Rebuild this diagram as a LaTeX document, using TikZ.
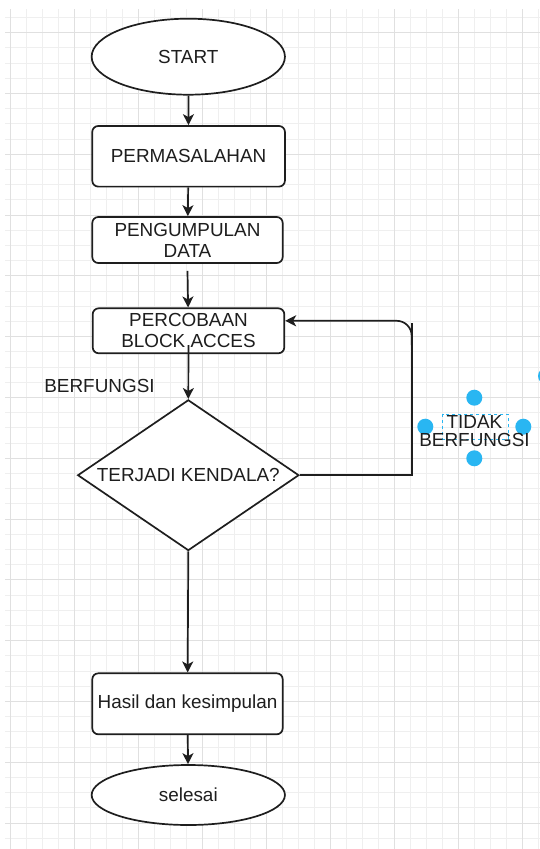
\documentclass[tikz,border=0pt]{standalone}
\usepackage{fontspec}
\setmainfont{Liberation Sans}
\usetikzlibrary{shapes.geometric,arrows.meta}
\definecolor{minorgrid}{RGB}{239,239,239}
\definecolor{majorgrid}{RGB}{224,224,224}
\definecolor{handle}{RGB}{41,182,242}
\definecolor{ink}{RGB}{30,30,30}
\begin{document}
\begin{tikzpicture}[x=1pt,y=-1pt,
  txt/.style={font=\fontsize{18.9}{21}\selectfont, text=ink},
  box/.style={txt, draw=ink, line width=1.7pt, rounded corners=6pt, fill=white,
    align=center, inner sep=0pt},
  term/.style={txt, ellipse, draw=ink, line width=1.7pt, fill=white, inner sep=0pt},
  dec/.style={txt, diamond, draw=ink, line width=1.7pt, fill=white, inner sep=0pt,
    shape aspect=1.48},
  conn/.style={draw=ink, line width=1.7pt},
  arr/.style={conn, -{Stealth[length=11pt,width=11pt,inset=3pt]}},
  lbl/.style={txt, inner sep=0pt},
  handledot/.style={circle, fill=handle, minimum size=16pt, inner sep=0pt}]
\useasboundingbox (0,0) rectangle (540,849);
\fill[white] (0,0) rectangle (540,849);
% grid
\foreach \k in {0,...,33} {\draw[minorgrid, line width=1pt] ({10.7+16*\k},9) -- ({10.7+16*\k},849);}
\foreach \k in {0,...,54} {\draw[minorgrid, line width=1pt] (5,{17.5+15.2*\k}) -- (540,{17.5+15.2*\k});}
\foreach \k in {0,...,8} {\draw[majorgrid, line width=1pt] ({10.7+64*\k},9) -- ({10.7+64*\k},849);}
\foreach \k in {0,...,13} {\draw[majorgrid, line width=1pt] (5,{32.7+60.8*\k}) -- (540,{32.7+60.8*\k});}

% nodes
\node[term, minimum width=193.3pt, minimum height=76pt] (start) at (188.3,56.7) {START};
\node[box, minimum width=192.7pt, minimum height=60.6pt] (perm) at (188.6,156.3) {PERMASALAHAN};
\node[box, minimum width=190.4pt, minimum height=46pt] (data) at (187.5,240) {PENGUMPULAN\\DATA};
\node[box, minimum width=191.6pt, minimum height=45pt] (perc) at (188.5,330.8) {PERCOBAAN\\BLOCK ACCES};
\node[dec, minimum width=221.3pt, minimum height=150.7pt] (dia) at (188.3,475.2) {TERJADI KENDALA?};
\node[box, minimum width=190.4pt, minimum height=61pt] (hasil) at (187.5,703.8) {Hasil dan kesimpulan};
\node[term, minimum width=193.3pt, minimum height=60pt] (sel) at (188.3,795) {selesai};

% connectors
\draw[arr] (start) -- (perm);
\draw[arr] (perm) -- (data);
\draw[arr] ([yshift=-7pt]data.south) -- (perc);
\draw[arr] ([yshift=9pt]perc.south) -- (dia.north);
\draw[arr] (dia.south) -- (hasil);
\draw[arr] (hasil) -- (sel);

\coordinate (loopbot) at (411.7,475.2);
\coordinate (looptop) at (411.7,323.3);
\coordinate (loopjoin) at (411.7,345);
\draw[conn] (dia.east) -- (loopbot) -- (looptop);
\draw[arr, rounded corners=15pt] (loopjoin) |- ([yshift=10pt]perc.east);

% labels
\node[lbl] (berf) at (99.5,386) {BERFUNGSI};

% selection decoration
\draw[handle, dashed, line width=0.8pt] (442.7,414.3) rectangle (508.3,439);
\node[handledot] (ht) at (474.3,397.7) {};
\node[handledot] (hb) at (474.3,458.3) {};
\node[handledot] (hl) at (425.3,426.7) {};
\node[handledot] (hr) at (523.3,426.7) {};
\begin{scope}
\clip (0,0) rectangle (540,849);
\node[handledot] (hrot) at (546,376) {};
\end{scope}
\node[lbl, align=center, font=\fontsize{18.9}{18.3}\selectfont] (tidak) at (474.5,431) {TIDAK\\BERFUNGSI};
\end{tikzpicture}
\end{document}
